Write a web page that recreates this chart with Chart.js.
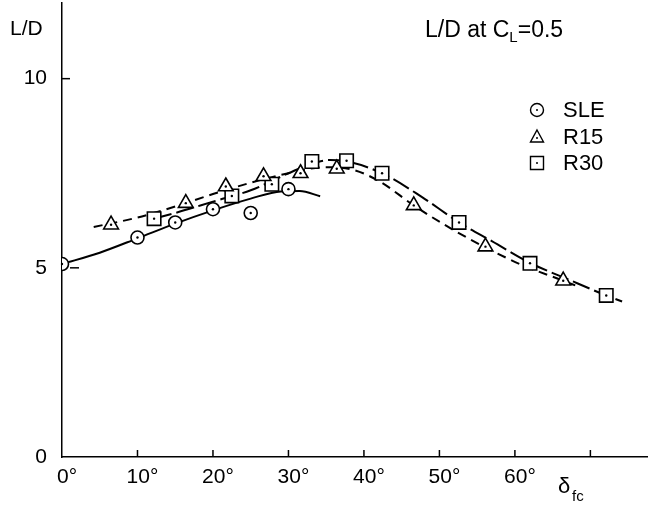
<!DOCTYPE html>
<html>
<head>
<meta charset="utf-8">
<script src="https://cdn.jsdelivr.net/npm/chart.js@4/dist/chart.umd.min.js"></script>
<style>
  html, body { margin: 0; padding: 0; background: #fff; }
  #wrap { width: 650px; height: 511px; position: relative; }
</style>
</head>
<body>
<div id="wrap"><canvas id="chart"></canvas></div>
<script>
// measured points (delta_fc in degrees, L/D)
const sleX = [0, 10, 15, 20, 25, 30];
const sleY = [5.1, 5.8, 6.2, 6.55, 6.45, 7.08];
const r15X = [6.5, 16.4, 21.7, 26.7, 31.6, 36.4, 46.6, 56.1, 66.4];
const r15Y = [6.14, 6.71, 7.15, 7.42, 7.5, 7.62, 6.65, 5.56, 4.66];
const r30X = [12.2, 22.5, 27.8, 33.1, 37.7, 42.4, 52.6, 62, 72.1];
const r30Y = [6.3, 6.9, 7.21, 7.81, 7.83, 7.5, 6.2, 5.12, 4.27];

// faired curves
const sleCurveX = [0, 5, 10, 15, 20, 25, 29, 31.5, 34.2];
const sleCurveY = [5.1, 5.4, 5.78, 6.17, 6.52, 6.83, 7.02, 7.03, 6.89];
const r15CurveX = [4.2, 10, 15, 20, 25, 30, 35, 38.6, 42.1, 46.6, 51, 56, 61, 66.4, 68.2];
const r15CurveY = [6.08, 6.33, 6.62, 6.95, 7.25, 7.5, 7.66, 7.59, 7.28, 6.65, 6.1, 5.55, 5.07, 4.66, 4.52];
const r30CurveX = [12.2, 15, 20, 25, 30, 33, 35.5, 38, 42.4, 47.7, 52.6, 57, 62, 67, 72.1, 74.2];
const r30CurveY = [6.3, 6.45, 6.75, 7.05, 7.5, 7.75, 7.85, 7.8, 7.5, 6.87, 6.2, 5.7, 5.13, 4.7, 4.27, 4.11];

const xTickValues = [0, 10, 20, 30, 40, 50, 60, 70];
const xTickLabels = ['0°', '10°', '20°', '30°', '40°', '50°', '60°', ''];
const yTickValues = [0, 5, 10];
const yTickLabels = ['0', '5', '10'];

const FONT = "'Liberation Sans', Arial, Helvetica, sans-serif";

const pts = (xs, ys) => xs.map((x, i) => ({ x: x, y: ys[i] }));

const curve = (xs, ys, dash) => ({
  type: 'line',
  data: pts(xs, ys),
  borderColor: '#000',
  borderWidth: 2,
  borderDash: dash,
  pointRadius: 0,
  tension: 0.4,
  cubicInterpolationMode: 'monotone',
  fill: false,
  order: 2,
});

const marks = (xs, ys, style, r) => ({
  type: 'scatter',
  data: pts(xs, ys),
  pointStyle: style,
  pointRadius: r,
  pointBackgroundColor: '#fff',
  pointBorderColor: '#000',
  pointBorderWidth: 1.6,
  dotted: true,
  order: 1,
});

// center dots inside the markers
const dotPlugin = {
  id: 'dots',
  afterDatasetsDraw(chart) {
    const ctx = chart.ctx;
    ctx.save();
    ctx.fillStyle = '#000';
    chart.data.datasets.forEach((ds, i) => {
      if (!ds.dotted) return;
      chart.getDatasetMeta(i).data.forEach(el => {
        ctx.beginPath();
        ctx.arc(el.x, el.y, 1.2, 0, Math.PI * 2);
        ctx.fill();
      });
    });
    ctx.restore();
  }
};

// inward tick marks, axis texts and legend
const decorPlugin = {
  id: 'decor',
  afterDraw(chart) {
    const ctx = chart.ctx;
    const xs = chart.scales.x, ys = chart.scales.y;
    const area = chart.chartArea;
    ctx.save();
    ctx.strokeStyle = '#000';
    ctx.lineWidth = 1.5;
    xTickValues.slice(1).forEach(v => {
      const px = xs.getPixelForValue(v);
      ctx.beginPath();
      ctx.moveTo(px, area.bottom);
      ctx.lineTo(px, area.bottom - 7);
      ctx.stroke();
    });
    yTickValues.slice(1).forEach(v => {
      const py = ys.getPixelForValue(v);
      ctx.beginPath();
      ctx.moveTo(area.left + (v === 5 ? 8 : 0), py);
      ctx.lineTo(area.left + (v === 5 ? 17 : 8), py);
      ctx.stroke();
    });

    ctx.fillStyle = '#000';
    ctx.textBaseline = 'alphabetic';
    ctx.textAlign = 'left';

    ctx.font = '21px ' + FONT;
    ctx.fillText('L/D', 10, 35);

    // title: L/D at C_L=0.5
    let tx = 425;
    ctx.font = '23px ' + FONT;
    ctx.fillText('L/D at C', tx, 37);
    tx += ctx.measureText('L/D at C').width;
    ctx.font = '15px ' + FONT;
    ctx.fillText('L', tx, 42);
    tx += ctx.measureText('L').width;
    ctx.font = '23px ' + FONT;
    ctx.fillText('=0.5', tx, 37);

    // axis name delta_fc
    ctx.font = '22px ' + FONT;
    ctx.fillText('δ', 558, 493);
    ctx.font = '15px ' + FONT;
    ctx.fillText('fc', 572, 501);

    // legend
    const names = ['SLE', 'R15', 'R30'];
    const rows = [110, 137, 163];
    ctx.lineWidth = 1.4;
    names.forEach((n, i) => {
      const mx = 537, my = rows[i];
      ctx.beginPath();
      if (i === 0) {
        ctx.arc(mx, my, 6.5, 0, Math.PI * 2);
      } else if (i === 1) {
        ctx.moveTo(mx, my - 7);
        ctx.lineTo(mx + 6.5, my + 5);
        ctx.lineTo(mx - 6.5, my + 5);
        ctx.closePath();
      } else {
        ctx.rect(mx - 6.5, my - 6.5, 13, 13);
      }
      ctx.stroke();
      ctx.beginPath();
      ctx.arc(mx, i === 1 ? my + 1 : my, 1, 0, Math.PI * 2);
      ctx.fill();
      ctx.font = '22px ' + FONT;
      ctx.textBaseline = 'middle';
      ctx.fillText(n, 563, my + 1);
      ctx.textBaseline = 'alphabetic';
    });
    ctx.restore();
  }
};

new Chart(document.getElementById('chart'), {
  data: {
    datasets: [
      curve(sleCurveX, sleCurveY, []),
      curve(r15CurveX, r15CurveY, [9, 6]),
      curve(r30CurveX, r30CurveY, [18, 5]),
      marks(sleX, sleY, 'circle', 6.5),
      marks(r15X, r15Y, 'triangle', 8.5),
      marks(r30X, r30Y, 'rect', 9.5),
    ],
  },
  options: {
    responsive: true,
    maintainAspectRatio: false,
    animation: false,
    layout: { autoPadding: false, padding: { top: 3, right: 3, left: 0, bottom: 0 } },
    plugins: { legend: { display: false }, tooltip: { enabled: false } },
    scales: {
      x: {
        type: 'linear',
        min: 0,
        max: 77.5,
        afterBuildTicks: s => { s.ticks = xTickValues.slice(0, 7).map(v => ({ value: v })); },
        afterFit: s => { s.height = 54; s.paddingRight = 0; },
        grid: { display: false },
        border: { display: true, color: '#000', width: 1.5 },
        ticks: {
          autoSkip: false,
          maxRotation: 0,
          padding: 0,
          labelOffset: 5,
          color: '#000',
          font: { family: FONT, size: 21 },
          callback: v => {
            const i = xTickValues.indexOf(v);
            return i >= 0 ? xTickLabels[i] : '';
          },
        },
      },
      y: {
        type: 'linear',
        min: 0,
        max: 12,
        afterBuildTicks: s => { s.ticks = yTickValues.map(v => ({ value: v })); },
        afterFit: s => { s.width = 62; s.paddingTop = 0; },
        grid: { display: false },
        border: { display: true, color: '#000', width: 1.5 },
        ticks: {
          autoSkip: false,
          padding: 7,
          color: '#000',
          font: { family: FONT, size: 21 },
          callback: v => {
            const i = yTickValues.indexOf(v);
            return i >= 0 ? yTickLabels[i] : '';
          },
        },
      },
    },
  },
  plugins: [dotPlugin, decorPlugin],
});
</script>
</body>
</html>
